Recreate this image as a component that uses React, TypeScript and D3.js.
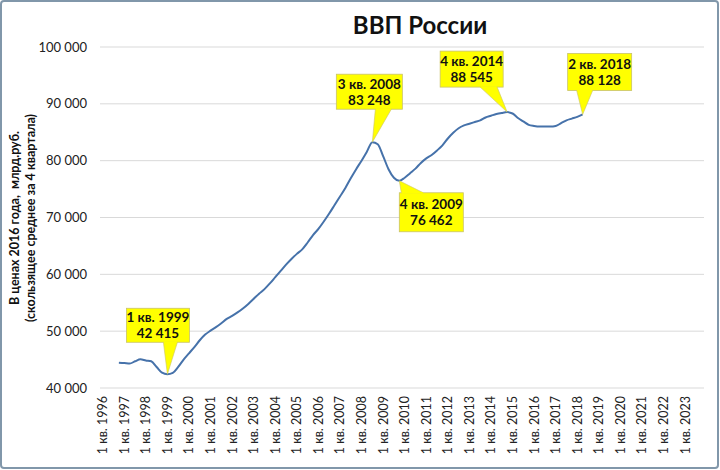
import React from "react";
import * as d3 from "d3";

// ---- DATA ----
const years: number[] = [1996,1997,1998,1999,2000,2001,2002,2003,2004,2005,2006,2007,2008,2009,2010,2011,2012,2013,2014,2015,2016,2017,2018,2019,2020,2021,2022,2023];
const quarterNames: string[] = ["1 кв.", "2 кв.", "3 кв.", "4 кв."];
const yTicks: number[] = [40000, 50000, 60000, 70000, 80000, 90000, 100000];
// series starts at 4 кв. 1996
const seriesStart = "4 кв. 1996";
const gdp: number[] = [
  44450,
  44400, 44300, 44700, 45050,
  44850, 44700, 43700, 42700,
  42415, 42650, 43700, 45000,
  46100, 47200, 48400, 49400,
  50100, 50700, 51400, 52150,
  52700, 53300, 54000, 54800,
  55700, 56600, 57400, 58400,
  59500, 60600, 61700, 62700,
  63600, 64400, 65600, 66900,
  68000, 69300, 70700, 72200,
  73700, 75200, 76900, 78500,
  80000, 81600, 83248, 82900,
  80800, 78500, 77000, 76462,
  77000, 77800, 78600, 79600,
  80400, 81000, 81800, 82700,
  83900, 84900, 85700, 86200,
  86500, 86800, 87100, 87600,
  87900, 88200, 88400, 88545,
  88300, 87500, 86900, 86300,
  86100, 86000, 86000, 86000,
  86100, 86600, 87100, 87400,
  87700, 88128,
];
const calloutQuarters: string[] = ["1 кв. 1999", "3 кв. 2008", "4 кв. 2009", "4 кв. 2014", "2 кв. 2018"];

const title = "ВВП России";
const yTitle1 = "В ценах 2016 года,\u00a0 млрд.руб.";
const yTitle2 = "(скользящее среднее за 4 квартала)";

// ---- LAYOUT ----
const W = 720, H = 470;
const left = 100, right = 704, top = 47, bottom = 388;
const FONT = "Lato, 'Open Sans', sans-serif";

// callout box geometry relative to tip: [boxLeft, boxTop, boxW, boxH, baseA, baseB, side]
const calloutLayout: [number, number, number, number, number, number, "top" | "bottom"][] = [
  [-41, -66, 63, 34, -4, 10, "bottom"],
  [-36, -68, 66, 35, 3, 19, "bottom"],
  [0, 12, 64, 39, 2, 24, "top"],
  [-67, -61, 63, 36, -27, -10, "bottom"],
  [-15, -61, 64, 37, -6, 10, "bottom"],
];

const fmt = (v: number) => d3.format(",")(v).replace(/,/g, " ");

export default function App() {
  const categories: string[] = [];
  years.forEach((y) => quarterNames.forEach((q) => categories.push(`${q} ${y}`)));
  const startIdx = categories.indexOf(seriesStart);
  const series = gdp.map((v, i) => ({ cat: categories[startIdx + i], v }));

  const x = d3.scaleBand<string>().domain(categories).range([left, right]).padding(0);
  const cx = (c: string) => (x(c) as number) + x.bandwidth() / 2;
  const y = d3.scaleLinear().domain([40000, 100000]).range([bottom, top]);

  const line = d3
    .line<{ cat: string; v: number }>()
    .x((d) => cx(d.cat))
    .y((d) => y(d.v))
    .curve(d3.curveMonotoneX);

  return (
    <svg
      width={W}
      height={H}
      style={{ position: "absolute", left: 0, top: 0, background: "#fff" }}
      fontFamily={FONT}
    >
      <rect x={1} y={1} width={W - 3} height={H - 3} rx={3} fill="#fff" stroke="#8197aa" strokeWidth={2} />
      <text x={420} y={34} textAnchor="middle" fontSize={24} fontWeight={700} fill="#111">
        {title}
      </text>

      {yTicks.map((t) => (
        <g key={t}>
          <line x1={left} x2={right} y1={y(t)} y2={y(t)} stroke="#d9d9d9" strokeWidth={1} />
          <text x={87} y={y(t) + 4.5} textAnchor="end" fontSize={13} fill="#222">
            {fmt(t)}
          </text>
        </g>
      ))}

      {years.map((yr) => {
        const c = `1 кв. ${yr}`;
        const px = cx(c);
        return (
          <text
            key={yr}
            transform={`translate(${px + 4.5},${396}) rotate(-90)`}
            textAnchor="end"
            fontSize={12.5}
            fill="#222"
          >
            {c}
          </text>
        );
      })}

      <g transform={`translate(19,${218}) rotate(-90)`}>
        <text x={0} y={0} textAnchor="middle" fontSize={12.5} fontWeight={700} fill="#111">
          {yTitle1}
        </text>
        <text x={0} y={16} textAnchor="middle" fontSize={12.5} fontWeight={700} fill="#111">
          {yTitle2}
        </text>
      </g>

      <path d={line(series) ?? ""} fill="none" stroke="#4672aa" strokeWidth={2} />

      {calloutQuarters.map((q, k) => {
        const pt = series.find((d) => d.cat === q)!;
        const tx = cx(q), ty = y(pt.v);
        const [bl, bt, bw, bh, ba, bb, side] = calloutLayout[k];
        const bx = tx + bl, by = ty + bt;
        const edgeY = side === "bottom" ? by + bh : by;
        const tri = `${tx + ba},${edgeY} ${tx},${ty} ${tx + bb},${edgeY}`;
        return (
          <g key={q}>
            <rect x={bx} y={by} width={bw} height={bh} fill="#ffff00" stroke="#c9c36a" strokeWidth={0.8} />
            <polygon points={tri} fill="#ffff00" />
            <line x1={tx + ba} y1={edgeY} x2={tx} y2={ty} stroke="#c9c36a" strokeWidth={0.6} />
            <line x1={tx + bb} y1={edgeY} x2={tx} y2={ty} stroke="#c9c36a" strokeWidth={0.6} />
            <line x1={tx + ba + 0.5} y1={edgeY} x2={tx + bb - 0.5} y2={edgeY} stroke="#ffff00" strokeWidth={1.5} />
            <text x={bx + bw / 2} y={by + bh / 2 - 3} textAnchor="middle" fontSize={13.5} fontWeight={700} fill="#111">
              {q}
            </text>
            <text x={bx + bw / 2} y={by + bh / 2 + 13} textAnchor="middle" fontSize={13.5} fontWeight={700} fill="#111">
              {fmt(pt.v)}
            </text>
          </g>
        );
      })}
    </svg>
  );
}
